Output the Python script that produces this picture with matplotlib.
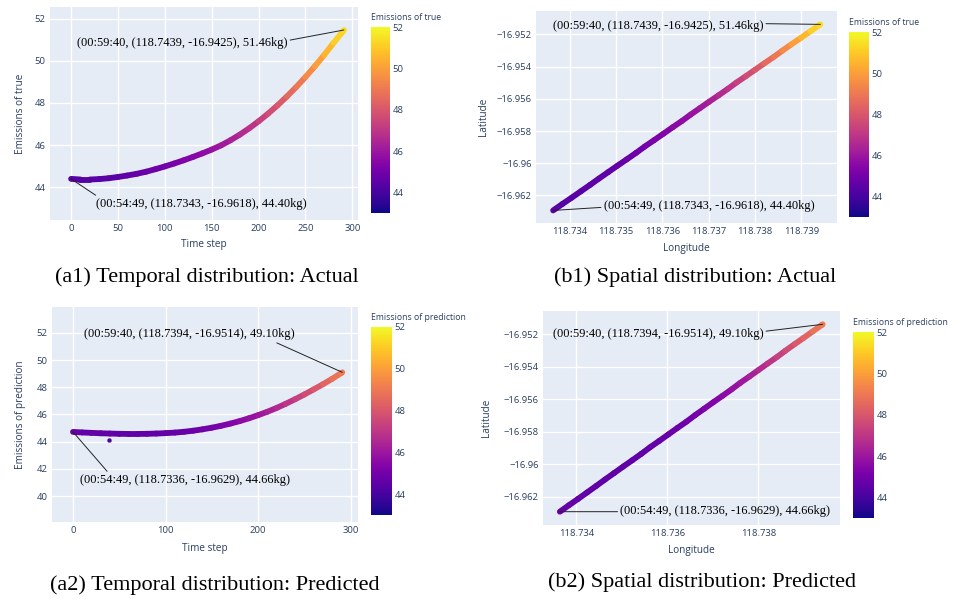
import matplotlib
matplotlib.use("Agg")
import matplotlib.pyplot as plt
import numpy as np
from matplotlib.collections import LineCollection
from matplotlib.ticker import FuncFormatter, FixedLocator
from matplotlib import cm, colors

# time step of each sample
time_steps = [0, 10, 20, 30, 40, 50, 60, 70, 80, 90, 100, 110, 120, 130, 140, 150,
              160, 170, 180, 190, 200, 210, 220, 230, 240, 250, 260, 270, 280, 290, 291]

emis_true = [44.40, 44.37, 44.37, 44.39, 44.43, 44.49, 44.56, 44.64, 44.74, 44.86,
             44.99, 45.13, 45.28, 45.44, 45.61, 45.79, 45.99, 46.23, 46.50, 46.80,
             47.13, 47.49, 47.88, 48.30, 48.75, 49.23, 49.74, 50.28, 50.85, 51.40, 51.46]

emis_pred = [44.72, 44.68, 44.65, 44.62, 44.60, 44.58, 44.57, 44.57, 44.58, 44.60,
             44.63, 44.67, 44.73, 44.81, 44.91, 45.03, 45.17, 45.33, 45.51, 45.72,
             45.95, 46.20, 46.48, 46.79, 47.12, 47.47, 47.84, 48.22, 48.62, 49.05, 49.10]

pred_outlier_t = [39]
pred_outlier_val = [44.10]

lon = [118.73364, 118.73384, 118.73404, 118.73424, 118.73444, 118.73463, 118.73483,
       118.73503, 118.73523, 118.73543, 118.73562, 118.73582, 118.73602, 118.73622,
       118.73642, 118.73661, 118.73681, 118.73701, 118.73721, 118.73741, 118.73760,
       118.73780, 118.73800, 118.73820, 118.73840, 118.73859, 118.73879, 118.73899,
       118.73919, 118.73939, 118.73941]

lat = [-16.96293, -16.96253, -16.96214, -16.96174, -16.96134, -16.96095, -16.96055,
       -16.96015, -16.95976, -16.95936, -16.95896, -16.95857, -16.95817, -16.95777,
       -16.95738, -16.95698, -16.95658, -16.95618, -16.95579, -16.95539, -16.95499,
       -16.95460, -16.95420, -16.95380, -16.95341, -16.95301, -16.95261, -16.95222,
       -16.95182, -16.95142, -16.95138]

ann_true = ["(00:54:49, (118.7343, -16.9618), 44.40kg)",
            "(00:59:40, (118.7439, -16.9425), 51.46kg)"]
ann_pred = ["(00:54:49, (118.7336, -16.9629), 44.66kg)",
            "(00:59:40, (118.7394, -16.9514), 49.10kg)"]

captions = ["(a1) Temporal distribution: Actual", "(b1) Spatial distribution: Actual",
            "(a2) Temporal distribution: Predicted", "(b2) Spatial distribution: Predicted"]

BG = "#E5ECF6"
TXT = "#2a3f5f"
SANS = ["Open Sans", "DejaVu Sans"]
SERIF = ["Liberation Serif", "DejaVu Serif"]
norm = colors.Normalize(vmin=43, vmax=52)
cmap = plt.get_cmap("plasma")

W, H = 955, 599
fig = plt.figure(figsize=(W / 100, H / 100), dpi=100)


def rect(x0, y0, x1, y1):
    # pixel box -> figure fraction
    return [x0 / W, 1 - y1 / H, (x1 - x0) / W, (y1 - y0) / H]


def style(ax, xlabel, ylabel, xlab_pos, ylab_pos):
    ax.set_facecolor(BG)
    for s in ax.spines.values():
        s.set_visible(False)
    ax.grid(True, color="white", lw=1.0)
    ax.set_axisbelow(True)
    ax.tick_params(length=0, labelsize=6.8, labelcolor=TXT, pad=3)
    for lbl in ax.get_xticklabels() + ax.get_yticklabels():
        lbl.set_family(SANS)
    ax.set_xlabel(xlabel, fontsize=7.2, color=TXT, family=SANS)
    ax.set_ylabel(ylabel, fontsize=7.2, color=TXT, family=SANS)
    ax.xaxis.set_label_coords(0.5, xlab_pos)
    ax.yaxis.set_label_coords(ylab_pos, 0.5)
    ax.xaxis.label.set_va("center")
    ax.yaxis.label.set_va("center")


def track(ax, x, y, c):
    pts = np.column_stack([x, y]).reshape(-1, 1, 2)
    segs = np.concatenate([pts[:-1], pts[1:]], axis=1)
    c = np.asarray(c)
    lc = LineCollection(segs, cmap=cmap, norm=norm, linewidths=4.2, capstyle="round",
                        joinstyle="round")
    lc.set_array((c[:-1] + c[1:]) / 2)
    ax.add_collection(lc)


def cbar(box, title):
    cax = fig.add_axes(rect(*box))
    cb = fig.colorbar(cm.ScalarMappable(norm=norm, cmap=cmap), cax=cax)
    cb.outline.set_visible(False)
    cb.set_ticks([44, 46, 48, 50, 52])
    cax.tick_params(length=0, labelsize=6.8, labelcolor=TXT, pad=2)
    for lbl in cax.get_yticklabels():
        lbl.set_family(SANS)
    cax.text(0, 1.025, title, transform=cax.transAxes, ha="left", va="bottom",
             fontsize=6.2, color=TXT, family=SANS)


def note(ax, text, xy, pos, relpos):
    ax.annotate(text, xy=xy, xytext=pos, textcoords="axes fraction", ha="center",
                va="center", fontsize=8.9, family=SERIF, color="black",
                arrowprops=dict(arrowstyle="-", color="#222222", lw=0.7,
                                shrinkA=0, shrinkB=0, relpos=relpos))


def spatial_fmt(v, _):
    s = f"{v:.3f}".rstrip("0").rstrip(".")
    return s.replace("-", "\u2212")


# (a1) temporal, actual
ax = fig.add_axes(rect(50, 7, 358, 220))
track(ax, time_steps, emis_true, emis_true)
ax.set_xlim(-22.5, 306)
ax.set_ylim(42.45, 52.55)
ax.set_xticks([0, 50, 100, 150, 200, 250, 300])
ax.set_yticks([44, 46, 48, 50, 52])
style(ax, "Time step", "Emissions of true", -0.117, -0.097)
note(ax, ann_true[1], (time_steps[-1], emis_true[-1]), (0.429, 0.831), (1, 0.7))
note(ax, ann_true[0], (time_steps[0], emis_true[0]), (0.490, 0.075), (0.02, 1))
cbar((371, 27, 390, 213), "Emissions of true")

# (b1) spatial, actual
ax = fig.add_axes(rect(536, 11, 837, 223))
track(ax, lon, lat, emis_true)
ax.set_xlim(118.73327, 118.73977)
ax.set_ylim(-16.96371, -16.95055)
ax.xaxis.set_major_locator(FixedLocator([118.734, 118.735, 118.736, 118.737, 118.738, 118.739]))
ax.yaxis.set_major_locator(FixedLocator([-16.962, -16.960, -16.958, -16.956, -16.954, -16.952]))
ax.xaxis.set_major_formatter(FuncFormatter(spatial_fmt))
ax.yaxis.set_major_formatter(FuncFormatter(spatial_fmt))
style(ax, "Longitude", "Latitude", -0.118, -0.176)
note(ax, ann_true[1], (lon[-1], lat[-1]), (0.405, 0.929), (1, 0.7))
note(ax, ann_true[0], (lon[0], lat[0]), (0.575, 0.080), (0, 0.4))
cbar((849, 32, 869, 217), "Emissions of true")

# (a2) temporal, predicted
ax = fig.add_axes(rect(52, 307, 358, 522))
track(ax, time_steps, emis_pred, emis_pred)
ax.scatter(pred_outlier_t, pred_outlier_val, c=pred_outlier_val, cmap=cmap, norm=norm,
           s=10, linewidths=0, zorder=3)
ax.set_xlim(-22.7, 308)
ax.set_ylim(38.1, 53.9)
ax.set_xticks([0, 100, 200, 300])
ax.set_yticks([40, 42, 44, 46, 48, 50, 52])
style(ax, "Time step", "Emissions of prediction", -0.121, -0.104)
note(ax, ann_pred[1], (time_steps[-1], emis_pred[-1]), (0.448, 0.874), (0.887, 0))
note(ax, ann_pred[0], (time_steps[0], emis_pred[0]), (0.435, 0.195), (0.14, 1))
cbar((371, 327, 392, 515), "Emissions of prediction")

# (b2) spatial, predicted
ax = fig.add_axes(rect(543, 311, 840, 525))
track(ax, lon, lat, emis_pred)
ax.set_xlim(118.73327, 118.73979)
ax.set_ylim(-16.96375, -16.95056)
ax.xaxis.set_major_locator(FixedLocator([118.734, 118.736, 118.738]))
ax.yaxis.set_major_locator(FixedLocator([-16.962, -16.960, -16.958, -16.956, -16.954, -16.952]))
ax.xaxis.set_major_formatter(FuncFormatter(spatial_fmt))
ax.yaxis.set_major_formatter(FuncFormatter(spatial_fmt))
style(ax, "Longitude", "Latitude", -0.117, -0.189)
note(ax, ann_pred[1], (lon[-1], lat[-1]), (0.387, 0.893), (1, 0.7))
note(ax, ann_pred[0], (lon[0], lat[0]), (0.614, 0.065), (0, 0.45))
cbar((853, 332, 874, 518), "Emissions of prediction")

# captions under each panel
for text, (cx, cy) in zip(captions, [(207, 277), (695, 277), (215, 585), (702, 582)]):
    fig.text(cx / W, 1 - cy / H, text, ha="center", va="center", fontsize=16,
             family=SERIF, color="black")

fig.savefig("out.png", dpi=100)
